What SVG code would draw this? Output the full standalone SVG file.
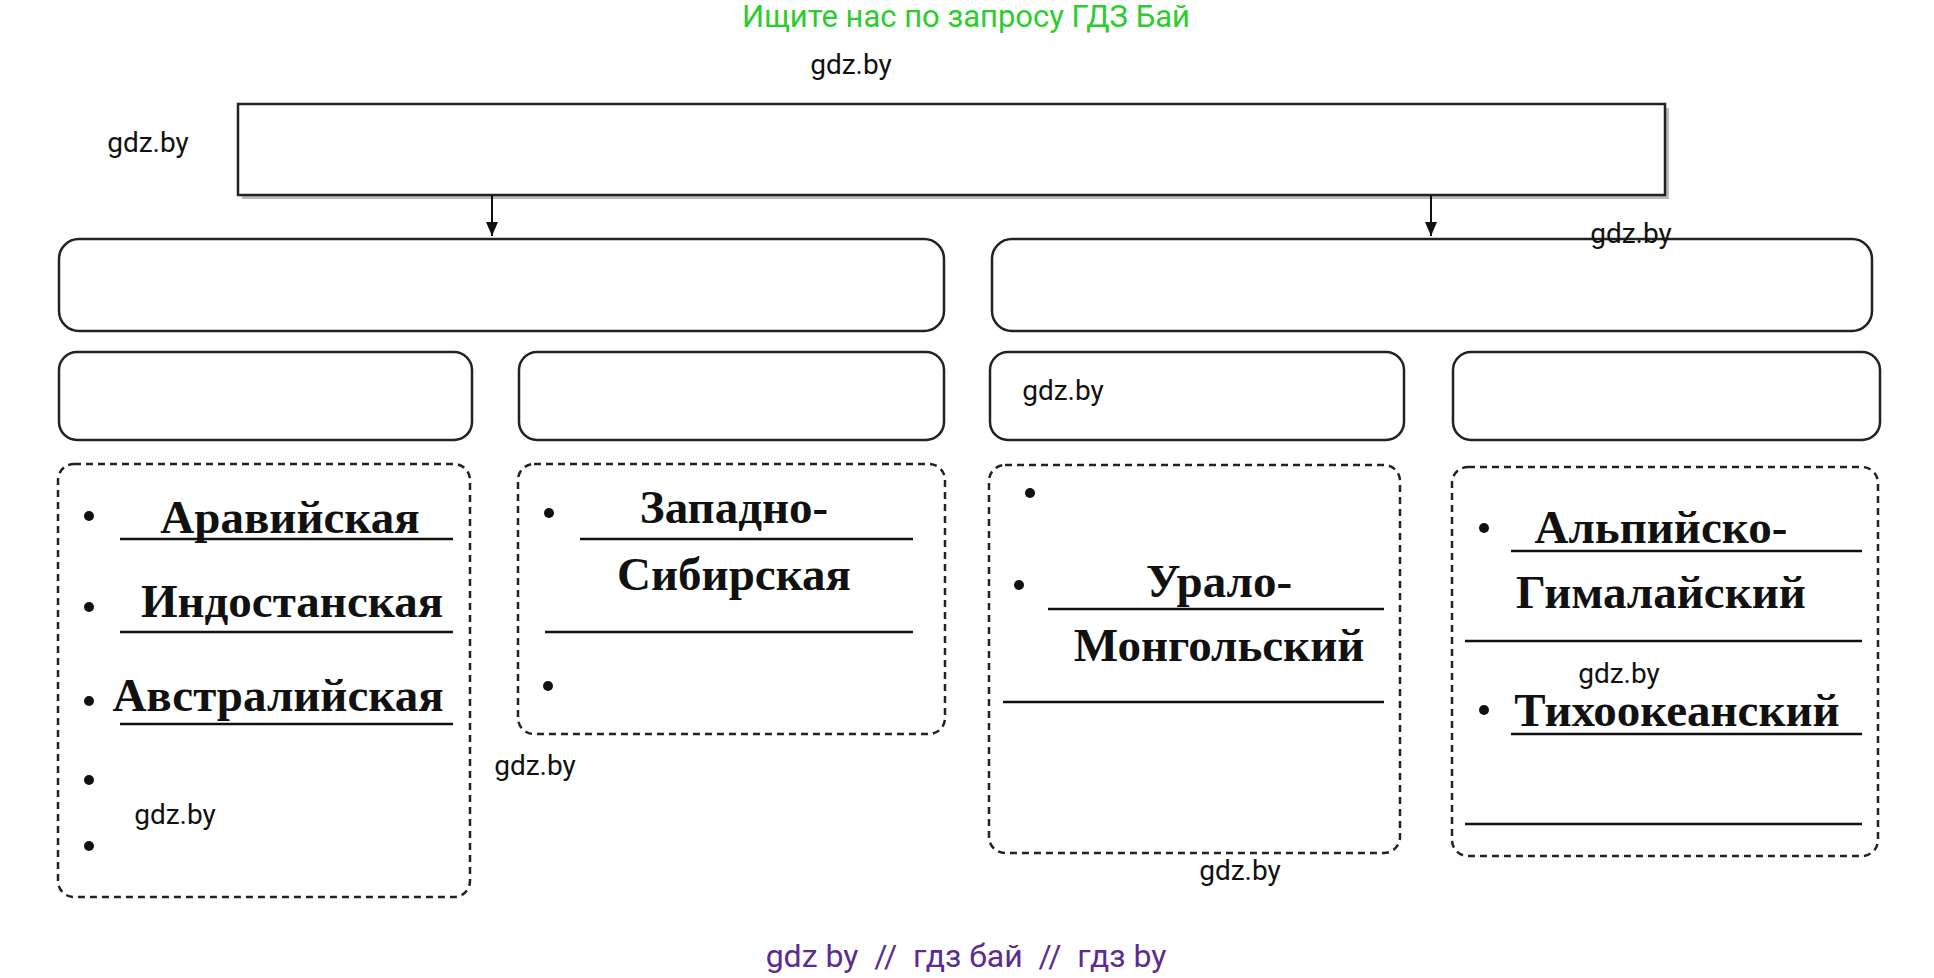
<svg xmlns="http://www.w3.org/2000/svg" width="1934" height="978" viewBox="0 0 1934 978">
<defs>
<style>
.box{fill:#fff;stroke:#222;stroke-width:2.5}
.dash{fill:none;stroke:#222;stroke-width:2.5;stroke-dasharray:7 5}
.t{font-family:"Liberation Serif",serif;font-weight:bold;font-size:47px;fill:#111;text-anchor:middle}
.w{font-family:Roboto,"Liberation Sans",sans-serif;font-size:28px;fill:#111;text-anchor:middle}
.ul{stroke:#111;stroke-width:2.5}
.b{fill:#111}
</style>
<marker id="ah" markerWidth="14" markerHeight="12" refX="14" refY="6" orient="auto" markerUnits="userSpaceOnUse" viewBox="0 0 14 12"><path d="M0,0 L14,6 L0,12 Z" fill="#111"/></marker>
</defs>
<rect width="1934" height="978" fill="#fff"/>
<text x="966" y="27" font-family="Roboto,'Liberation Sans',sans-serif" font-size="31" fill="#2ecc2e" text-anchor="middle">Ищите нас по запросу ГДЗ Бай</text>
<g id="top"><rect x="242" y="108" width="1427" height="91" fill="#bbb"/><rect class="box" x="238" y="104" width="1427" height="91"/></g>
<g id="connectors">
<line x1="492" y1="195" x2="492" y2="236" stroke="#111" stroke-width="2" marker-end="url(#ah)"/>
<line x1="1431" y1="195" x2="1431" y2="236" stroke="#111" stroke-width="2" marker-end="url(#ah)"/>
</g>
<g id="l2a"><rect class="box" x="59" y="239" width="885" height="92" rx="20"/></g>
<g id="l2b"><rect class="box" x="992" y="239" width="880" height="92" rx="20"/></g>
<g id="l3a"><rect class="box" x="59" y="352" width="413" height="88" rx="18"/></g>
<g id="l3b"><rect class="box" x="519" y="352" width="425" height="88" rx="18"/></g>
<g id="l3c"><rect class="box" x="990" y="352" width="414" height="88" rx="18"/></g>
<g id="l3d"><rect class="box" x="1453" y="352" width="427" height="88" rx="18"/></g>
<g id="d1"><rect class="dash" x="58" y="464" width="412" height="433" rx="16"/>
<circle class="b" cx="89" cy="516" r="5"/><text class="t" x="290" y="533">Аравийская</text><line class="ul" x1="120" y1="539" x2="453" y2="539"/>
<circle class="b" cx="89" cy="607" r="5"/><text class="t" x="292" y="617">Индостанская</text><line class="ul" x1="120" y1="632" x2="453" y2="632"/>
<circle class="b" cx="89" cy="701" r="5"/><text class="t" x="278" y="711">Австралийская</text><line class="ul" x1="120" y1="724" x2="453" y2="724"/>
<circle class="b" cx="89" cy="780" r="5"/><circle class="b" cx="89" cy="846" r="5"/></g>
<g id="d2"><rect class="dash" x="518" y="464" width="427" height="270" rx="16"/>
<circle class="b" cx="549" cy="513" r="5"/><text class="t" x="734" y="523">Западно-</text><line class="ul" x1="580" y1="539" x2="913" y2="539"/>
<text class="t" x="734" y="590">Сибирская</text><line class="ul" x1="545" y1="632" x2="913" y2="632"/>
<circle class="b" cx="548" cy="686" r="5"/></g>
<g id="d3"><rect class="dash" x="989" y="465" width="411" height="388" rx="16"/>
<circle class="b" cx="1030" cy="493" r="5"/><circle class="b" cx="1019" cy="585" r="5"/>
<text class="t" x="1219" y="597">Урало-</text><line class="ul" x1="1048" y1="609" x2="1384" y2="609"/>
<text class="t" x="1219" y="661">Монгольский</text><line class="ul" x1="1003" y1="702" x2="1384" y2="702"/></g>
<g id="d4"><rect class="dash" x="1452" y="467" width="426" height="389" rx="16"/>
<circle class="b" cx="1484" cy="528" r="5"/><text class="t" x="1661" y="543">Альпийско-</text><line class="ul" x1="1511" y1="551" x2="1862" y2="551"/>
<text class="t" x="1661" y="608">Гималайский</text><line class="ul" x1="1465" y1="641" x2="1862" y2="641"/>
<circle class="b" cx="1484" cy="710" r="5"/><text class="t" x="1677" y="726">Тихоокеанский</text><line class="ul" x1="1511" y1="734" x2="1862" y2="734"/>
<line class="ul" x1="1465" y1="824" x2="1862" y2="824"/></g>
<g id="wm">
<text class="w" x="851" y="74">gdz.by</text>
<text class="w" x="148" y="152">gdz.by</text>
<text class="w" x="1631" y="243">gdz.by</text>
<text class="w" x="1063" y="400">gdz.by</text>
<text class="w" x="1619" y="683">gdz.by</text>
<text class="w" x="175" y="824">gdz.by</text>
<text class="w" x="535" y="775">gdz.by</text>
<text class="w" x="1240" y="880">gdz.by</text>
</g>
<text x="966" y="967" font-family="Roboto,'Liberation Sans',sans-serif" font-size="32" fill="#5b2d8e" text-anchor="middle" xml:space="preserve">gdz by  //  гдз бай  //  гдз by</text>
</svg>
